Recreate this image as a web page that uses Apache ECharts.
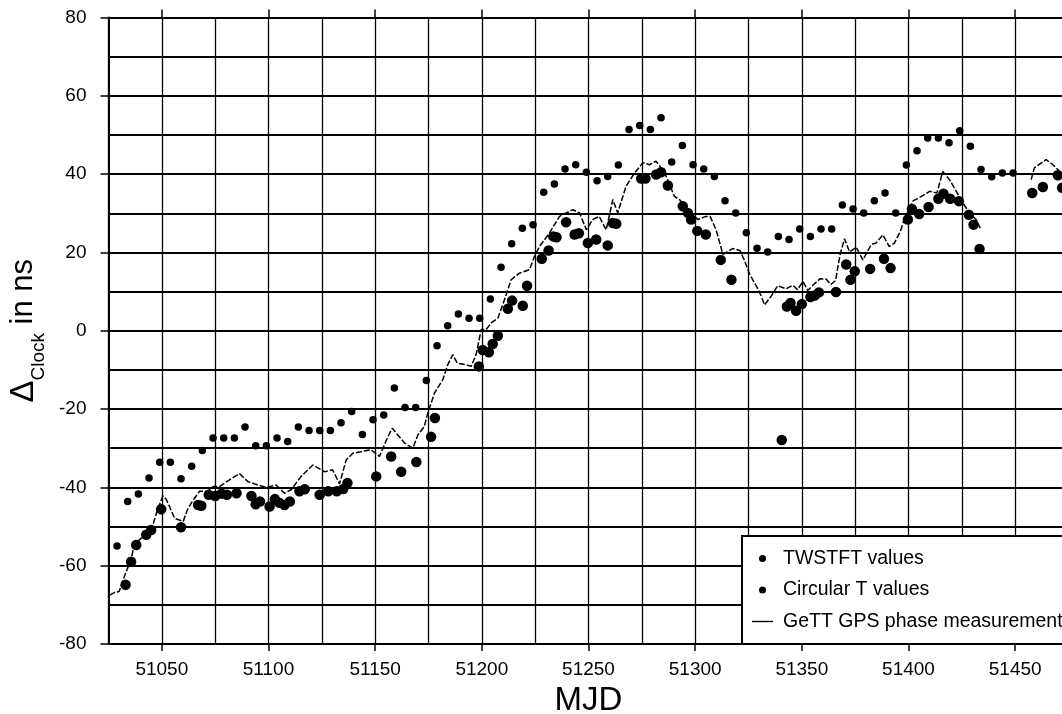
<!DOCTYPE html>
<html>
<head>
<meta charset="utf-8">
<script src="https://cdn.jsdelivr.net/npm/echarts@6.0.0/dist/echarts.min.js"></script>
<style>
html,body{margin:0;padding:0;background:#fff;}
#chart{width:1062px;height:714px;}
</style>
</head>
<body>
<div id="chart"></div>
<script>
// ---- data ----
var xLabelValues = [51050, 51100, 51150, 51200, 51250, 51300, 51350, 51400, 51450];

var twMjd = [51033, 51035.6, 51038, 51042.7, 51045, 51049.7, 51059, 51067, 51068.5, 51072, 51075, 51078, 51080.5, 51085,
  51092, 51094, 51096, 51100.5, 51103, 51105, 51107.5, 51110, 51114.5, 51117, 51124, 51128, 51132, 51135, 51137,
  51150.5, 51157.5, 51162.2, 51169.3, 51176.2, 51178, 51198.6, 51200.4, 51203.3, 51205.1, 51207.5, 51212.2, 51214.2,
  51219.2, 51221.2, 51228.1, 51231.3, 51233.5, 51235, 51239.5, 51243.5, 51245.5, 51249.7, 51253.6, 51259, 51261.4,
  51263, 51274.7, 51276.7, 51281.7, 51284, 51287.2, 51294.2, 51296.6, 51298.1, 51301, 51305, 51312, 51317, 51340.6,
  51343, 51344.7, 51347.3, 51350, 51354, 51356, 51358, 51366, 51370.8, 51372.8, 51374.8, 51382, 51388.5, 51391.6,
  51399.7, 51401.6, 51405, 51409.4, 51414, 51416.4, 51419.5, 51423.6, 51428.3, 51430.5, 51433.3, 51458, 51463, 51470, 51472];
var twVal = [-64.9, -59, -54.7, -52.1, -50.9, -45.6, -50.2, -44.5, -44.7, -41.9, -42.2, -41.6, -41.9, -41.5,
  -42.2, -44.3, -43.6, -44.9, -43, -43.9, -44.5, -43.6, -41, -40.5, -41.9, -41, -41, -40.4, -38.9,
  -37.2, -32.1, -36, -33.5, -27.1, -22.3, -9.1, -4.9, -5.5, -3.4, -1.3, 5.6, 7.7,
  6.4, 11.5, 18.4, 20.5, 24.1, 23.9, 27.7, 24.6, 24.9, 22.4, 23.3, 21.8, 27.5,
  27.3, 38.9, 38.9, 39.9, 40.5, 37.1, 31.8, 30.1, 28.4, 25.5, 24.6, 18.1, 13, -27.9,
  6.2, 7.1, 5.1, 6.8, 8.6, 9.0, 9.8, 9.9, 16.9, 13, 15.2, 15.8, 18.4, 16,
  28.4, 31.1, 29.8, 31.6, 33.7, 35, 33.7, 33.1, 29.6, 27.1, 20.9, 35.2, 36.7, 39.7, 36.5];

var ctMjd = [51029, 51034, 51039, 51044, 51049, 51054, 51059, 51064, 51069, 51074, 51079, 51084, 51089, 51094, 51099,
  51104, 51109, 51114, 51119, 51124, 51129, 51134, 51139, 51144, 51149, 51154, 51159, 51164, 51169, 51174, 51179,
  51184, 51189, 51194, 51199, 51204, 51209, 51214, 51219, 51224, 51229, 51234, 51239, 51244, 51249, 51254, 51259,
  51264, 51269, 51274, 51279, 51284, 51289, 51294, 51299, 51304, 51309, 51314, 51319, 51324, 51329, 51334, 51339,
  51344, 51349, 51354, 51359, 51364, 51369, 51374, 51379, 51384, 51389, 51394, 51399, 51404, 51409, 51414, 51419,
  51424, 51429, 51434, 51439, 51444, 51449];
var ctVal = [-55, -43.6, -41.7, -37.6, -33.6, -33.6, -37.8, -34.6, -30.6, -27.4, -27.4, -27.4, -24.6, -29.4, -29.4,
  -27.4, -28.3, -24.6, -25.5, -25.5, -25.5, -23.5, -20.6, -26.5, -22.7, -21.5, -14.6, -19.6, -19.6, -12.7, -3.8,
  1.3, 4.3, 3.2, 3.2, 8.1, 16.2, 22.2, 26.2, 27.1, 35.4, 37.5, 41.3, 42.4, 40.5, 38.3, 39.4,
  42.3, 51.4, 52.4, 51.4, 54.4, 43.1, 47.3, 42.4, 41.3, 39.4, 33.2, 30.1, 25, 21.1, 20.1, 24.1,
  23.3, 26, 24.1, 26, 26, 32.1, 31.1, 30.1, 33.2, 35.2, 30.1, 42.3, 46, 49.2, 49.2, 48,
  51.1, 47.1, 41.2, 39.3, 40.3, 40.3];

var gpsMjd = [51025.5, 51028, 51030, 51033, 51035.6, 51037, 51041, 51046, 51048, 51050.5, 51052, 51053.6, 51056, 51060,
  51062, 51064.5, 51067.7, 51071.5, 51074, 51077, 51081.7, 51086.4, 51090.3, 51095, 51099, 51103.6, 51107.5, 51110.6,
  51115.3, 51120.8, 51126.3, 51130, 51133.3, 51136.4, 51139.5, 51144, 51148, 51152, 51156, 51158, 51160.6, 51163.8,
  51167.7, 51170, 51173, 51174.7, 51177.8, 51181.7, 51184, 51186.4, 51188.5, 51192.6, 51195, 51197.3, 51199.7, 51202,
  51204.4, 51207.5, 51210.6, 51213.7, 51217.6, 51222.3, 51224.7, 51227, 51230, 51231.7, 51236.4, 51242.6, 51245.8,
  51249, 51252, 51255, 51258.3, 51261.4, 51263.7, 51267.6, 51271.6, 51275.5, 51278.6, 51281.7, 51284, 51286.4,
  51290.3, 51292.6, 51296.6, 51301.3, 51305, 51307, 51309.8, 51313, 51317.6, 51321, 51323, 51325.5, 51329.4, 51331,
  51332.5, 51335.6, 51338.7, 51342.6, 51345.8, 51348, 51350.5, 51352.8, 51355.5, 51358.6, 51361.4, 51363.5, 51365.8,
  51367.9, 51370, 51372.4, 51375.5, 51378.6, 51382.5, 51384.8, 51388, 51391, 51393.4, 51396.2, 51398, 51402, 51406,
  51409.9, 51413.3, 51416.1, 51419.2, 51422.4, 51425.5, 51428.6, 51431.7, 51434, 51445,
  51457.5, 51459, 51464.5, 51467.7, 51470.8];
var gpsVal = [-67.5, -66.8, -66.6, -61.9, -58.5, -54.7, -52.6, -49.2, -45.7, -42.2, -43, -44.9, -47.9, -48.7,
  -45.7, -43.4, -41, -41, -39.8, -39.8, -38.1, -36.5, -38.5, -39.4, -40, -39.4, -41.5, -40.6,
  -37.2, -34.3, -36, -35.5, -39.1, -33, -31.3, -30.8, -30.4, -32.1, -27, -24.9, -26.6, -28.7,
  -30, -26.6, -24.5, -21, -15.9, -12.5, -8.7, -6.1, -8.3, -8.7, -9.1, -6.1, 0.3, 0.3,
  2, 3.2, 7.9, 13, 14.7, 15.6, 19, 21.5, 23.7, 25, 29.2, 30.9, 30.1,
  25.8, 28.4, 29.2, 25.8, 33.5, 30.1, 36.9, 40.3, 42.9, 42.4, 43.3, 41.6, 39.4,
  34.3, 33.5, 30.9, 28.4, 29.2, 29.2, 25.8, 19.5, 21, 20.5, 18.1, 14.5, 10.7, 8.8,
  6.6, 8.8, 11.5, 10.7, 11.6, 10.5, 12.6, 10.3, 11.8, 13.3, 13.2, 11.8, 12.8,
  19.4, 23.5, 20.1, 21.3, 18.1, 22, 22.4, 24.5, 21.5, 22.4, 25.4, 28.4, 33.1, 34.3,
  35.6, 35.2, 40.7, 38.6, 35.6, 32.6, 30.1, 28.4, 25.8, null,
  38.6, 41.6, 43.7, 42.4, 40.7];

// ---- chart ----
var FONT = '"Liberation Sans", Arial, Helvetica, sans-serif';
function pairs(xs, ys) { return xs.map(function (x, i) { return [x, ys[i]]; }); }
function plain(v) { return String(v); }

var chart = echarts.init(document.getElementById('chart'), null, {renderer: 'canvas'});
var xBase = {type: 'value', min: 51025, max: 51475, interval: 25, gridIndex: 0};

chart.setOption({
  animation: false,
  backgroundColor: '#ffffff',
  grid: {left: 108.5, top: 17.5, width: 960, height: 626.5, containLabel: false, outerBoundsMode: 'none'},
  xAxis: [
    Object.assign({}, xBase, {
      position: 'bottom',
      axisLine: {show: true, lineStyle: {color: '#000', width: 2}},
      axisTick: {show: false},
      axisLabel: {show: false},
      splitLine: {show: true, lineStyle: {color: '#000', width: 1.3}}
    }),
    Object.assign({}, xBase, {
      position: 'bottom',
      axisLine: {show: false},
      axisTick: {show: true, customValues: xLabelValues, length: 7, lineStyle: {color: '#000', width: 1.5}},
      axisLabel: {show: true, customValues: xLabelValues, formatter: plain, color: '#000', fontSize: 19, fontFamily: FONT, margin: 16},
      splitLine: {show: false},
      name: 'MJD', nameLocation: 'middle', nameGap: 40,
      nameTextStyle: {color: '#000', fontSize: 33, fontFamily: FONT}
    }),
    Object.assign({}, xBase, {
      position: 'top',
      axisLine: {show: true, lineStyle: {color: '#000', width: 2}},
      axisTick: {show: true, customValues: xLabelValues, length: 8, lineStyle: {color: '#000', width: 1.5}},
      axisLabel: {show: false},
      splitLine: {show: false}
    })
  ],
  yAxis: [{
    type: 'value', min: -80, max: 80, interval: 20, position: 'left',
    axisLine: {show: true, lineStyle: {color: '#000', width: 2}},
    axisTick: {show: true, length: 8, lineStyle: {color: '#000', width: 1.5}},
    axisLabel: {color: '#000', fontSize: 19, fontFamily: FONT, margin: 22, formatter: plain},
    splitLine: {show: true, lineStyle: {color: '#000', width: 2}},
    minorTick: {show: false, splitNumber: 2},
    minorSplitLine: {show: true, lineStyle: {color: '#000', width: 2}},
    name: '{d|Δ}{s|Clock}{m| in ns}',
    nameLocation: 'middle', nameGap: 58,
    nameTextStyle: {
      color: '#000', fontFamily: FONT,
      rich: {
        d: {fontSize: 33, fontFamily: FONT, color: '#000', verticalAlign: 'bottom', padding: [0, 0, 8, 0]},
        m: {fontSize: 31, fontFamily: FONT, color: '#000', verticalAlign: 'bottom', padding: [0, 0, 9, 0]},
        s: {fontSize: 19, fontFamily: FONT, color: '#000', verticalAlign: 'bottom'}
      }
    }
  }],
  legend: {
    show: true, orient: 'vertical', left: 742, top: 536,
    backgroundColor: '#fff', borderColor: '#000', borderWidth: 2, borderRadius: 0,
    padding: [12, 40, 12, 10], itemGap: 10.5, itemWidth: 21, itemHeight: 7,
    selectedMode: false,
    textStyle: {color: '#000', fontSize: 19.5, fontFamily: FONT, lineHeight: 21, padding: [0, 0, 0, 5]},
    data: [
      {name: 'TWSTFT values', icon: 'circle'},
      {name: 'Circular T values', icon: 'circle'},
      {name: 'GeTT GPS phase measurement', icon: 'path://M0,0 L21,0 L21,1.4 L0,1.4 Z'}
    ]
  },
  series: [
    {
      name: 'GeTT GPS phase measurement', type: 'line', xAxisIndex: 0, yAxisIndex: 0,
      data: pairs(gpsMjd, gpsVal), symbol: 'none', showSymbol: false, connectNulls: false, z: 2,
      lineStyle: {color: '#000', width: 1.5, type: [6, 2]}, itemStyle: {color: '#000'}
    },
    {
      name: 'TWSTFT values', type: 'scatter', xAxisIndex: 0, yAxisIndex: 0,
      data: pairs(twMjd, twVal), symbol: 'circle', symbolSize: 10.5, z: 3,
      itemStyle: {color: '#000', opacity: 1}
    },
    {
      name: 'Circular T values', type: 'scatter', xAxisIndex: 0, yAxisIndex: 0,
      data: pairs(ctMjd, ctVal), symbol: 'circle', symbolSize: 7.5, z: 3,
      itemStyle: {color: '#000', opacity: 1}
    }
  ]
});
</script>
</body>
</html>
